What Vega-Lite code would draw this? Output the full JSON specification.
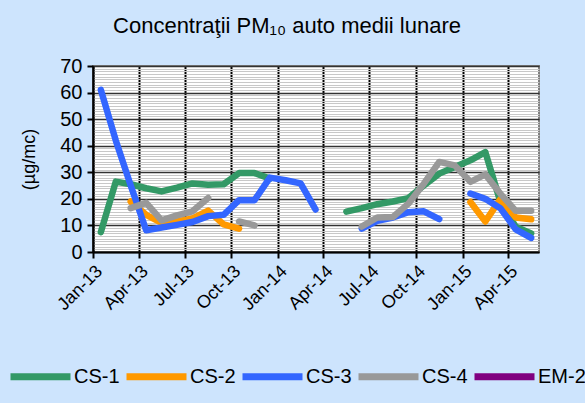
{
  "$schema": "https://vega.github.io/schema/vega-lite/v6.json",
  "width": 446,
  "height": 186,
  "autosize": {"type": "none"},
  "padding": {"left": 93, "top": 66, "right": 46, "bottom": 151},
  "background": "#cde4fd",
  "title": {"text": "Concentraţii PM₁₀ auto medii lunare", "fontSize": 22, "font": "Liberation Sans", "fontWeight": "normal", "color": "#000000", "anchor": "middle", "frame": "group", "dx": -29, "offset": 18},
  "config": {"view": {"fill": "white", "stroke": "#808080", "strokeWidth": 2}, "font": "Liberation Sans"},
  "data": {"values": [
    {"s":"CS-1","m":"2013-01-01","v":7.5},{"s":"CS-1","m":"2013-02-01","v":26.5},{"s":"CS-1","m":"2013-03-01","v":25.5},{"s":"CS-1","m":"2013-04-01","v":24},{"s":"CS-1","m":"2013-05-01","v":22.8},{"s":"CS-1","m":"2013-06-01","v":24.2},{"s":"CS-1","m":"2013-07-01","v":25.8},{"s":"CS-1","m":"2013-08-01","v":25.3},{"s":"CS-1","m":"2013-09-01","v":25.5},{"s":"CS-1","m":"2013-10-01","v":29.7},{"s":"CS-1","m":"2013-11-01","v":29.7},{"s":"CS-1","m":"2013-12-01","v":27.6},{"s":"CS-1","m":"2014-01-01","v":null},{"s":"CS-1","m":"2014-02-01","v":null},{"s":"CS-1","m":"2014-03-01","v":null},{"s":"CS-1","m":"2014-04-01","v":null},{"s":"CS-1","m":"2014-05-01","v":15.2},{"s":"CS-1","m":"2014-06-01","v":16.5},{"s":"CS-1","m":"2014-07-01","v":18},{"s":"CS-1","m":"2014-08-01","v":19},{"s":"CS-1","m":"2014-09-01","v":20.3},{"s":"CS-1","m":"2014-10-01","v":25},{"s":"CS-1","m":"2014-11-01","v":29.5},{"s":"CS-1","m":"2014-12-01","v":32},{"s":"CS-1","m":"2015-01-01","v":34.5},{"s":"CS-1","m":"2015-02-01","v":37.6},{"s":"CS-1","m":"2015-03-01","v":19},{"s":"CS-1","m":"2015-04-01","v":9.5},{"s":"CS-1","m":"2015-05-01","v":7},
    {"s":"CS-2","m":"2013-01-01","v":null},{"s":"CS-2","m":"2013-02-01","v":null},{"s":"CS-2","m":"2013-03-01","v":19},{"s":"CS-2","m":"2013-04-01","v":14},{"s":"CS-2","m":"2013-05-01","v":11},{"s":"CS-2","m":"2013-06-01","v":11.5},{"s":"CS-2","m":"2013-07-01","v":12.6},{"s":"CS-2","m":"2013-08-01","v":15.6},{"s":"CS-2","m":"2013-09-01","v":10.4},{"s":"CS-2","m":"2013-10-01","v":8.8},{"s":"CS-2","m":"2013-11-01","v":null},{"s":"CS-2","m":"2013-12-01","v":null},{"s":"CS-2","m":"2014-01-01","v":null},{"s":"CS-2","m":"2014-02-01","v":null},{"s":"CS-2","m":"2014-03-01","v":null},{"s":"CS-2","m":"2014-04-01","v":null},{"s":"CS-2","m":"2014-05-01","v":null},{"s":"CS-2","m":"2014-06-01","v":null},{"s":"CS-2","m":"2014-07-01","v":null},{"s":"CS-2","m":"2014-08-01","v":null},{"s":"CS-2","m":"2014-09-01","v":null},{"s":"CS-2","m":"2014-10-01","v":null},{"s":"CS-2","m":"2014-11-01","v":null},{"s":"CS-2","m":"2014-12-01","v":null},{"s":"CS-2","m":"2015-01-01","v":18.8},{"s":"CS-2","m":"2015-02-01","v":11.5},{"s":"CS-2","m":"2015-03-01","v":19.8},{"s":"CS-2","m":"2015-04-01","v":13},{"s":"CS-2","m":"2015-05-01","v":12.3},
    {"s":"CS-3","m":"2013-01-01","v":61},{"s":"CS-3","m":"2013-02-01","v":42},{"s":"CS-3","m":"2013-03-01","v":25},{"s":"CS-3","m":"2013-04-01","v":8.2},{"s":"CS-3","m":"2013-05-01","v":9.2},{"s":"CS-3","m":"2013-06-01","v":10.2},{"s":"CS-3","m":"2013-07-01","v":11.3},{"s":"CS-3","m":"2013-08-01","v":13.5},{"s":"CS-3","m":"2013-09-01","v":14},{"s":"CS-3","m":"2013-10-01","v":19.5},{"s":"CS-3","m":"2013-11-01","v":19.5},{"s":"CS-3","m":"2013-12-01","v":28},{"s":"CS-3","m":"2014-01-01","v":27},{"s":"CS-3","m":"2014-02-01","v":25.8},{"s":"CS-3","m":"2014-03-01","v":16},{"s":"CS-3","m":"2014-04-01","v":null},{"s":"CS-3","m":"2014-05-01","v":null},{"s":"CS-3","m":"2014-06-01","v":8.8},{"s":"CS-3","m":"2014-07-01","v":11.7},{"s":"CS-3","m":"2014-08-01","v":13},{"s":"CS-3","m":"2014-09-01","v":15},{"s":"CS-3","m":"2014-10-01","v":15.3},{"s":"CS-3","m":"2014-11-01","v":12.4},{"s":"CS-3","m":"2014-12-01","v":null},{"s":"CS-3","m":"2015-01-01","v":22},{"s":"CS-3","m":"2015-02-01","v":20},{"s":"CS-3","m":"2015-03-01","v":16.5},{"s":"CS-3","m":"2015-04-01","v":8.5},{"s":"CS-3","m":"2015-05-01","v":5.3},
    {"s":"CS-4","m":"2013-01-01","v":null},{"s":"CS-4","m":"2013-02-01","v":null},{"s":"CS-4","m":"2013-03-01","v":16.5},{"s":"CS-4","m":"2013-04-01","v":18.5},{"s":"CS-4","m":"2013-05-01","v":11.9},{"s":"CS-4","m":"2013-06-01","v":13.8},{"s":"CS-4","m":"2013-07-01","v":15.3},{"s":"CS-4","m":"2013-08-01","v":20.3},{"s":"CS-4","m":"2013-09-01","v":null},{"s":"CS-4","m":"2013-10-01","v":11.5},{"s":"CS-4","m":"2013-11-01","v":10},{"s":"CS-4","m":"2013-12-01","v":null},{"s":"CS-4","m":"2014-01-01","v":null},{"s":"CS-4","m":"2014-02-01","v":null},{"s":"CS-4","m":"2014-03-01","v":null},{"s":"CS-4","m":"2014-04-01","v":null},{"s":"CS-4","m":"2014-05-01","v":null},{"s":"CS-4","m":"2014-06-01","v":9.6},{"s":"CS-4","m":"2014-07-01","v":13},{"s":"CS-4","m":"2014-08-01","v":13.2},{"s":"CS-4","m":"2014-09-01","v":18.2},{"s":"CS-4","m":"2014-10-01","v":25.7},{"s":"CS-4","m":"2014-11-01","v":33.9},{"s":"CS-4","m":"2014-12-01","v":32.6},{"s":"CS-4","m":"2015-01-01","v":26.4},{"s":"CS-4","m":"2015-02-01","v":29.2},{"s":"CS-4","m":"2015-03-01","v":22},{"s":"CS-4","m":"2015-04-01","v":15.5},{"s":"CS-4","m":"2015-05-01","v":15.5}
  ]},
  "mark": {"type": "line", "strokeWidth": 6.5, "strokeCap": "round", "strokeJoin": "round", "invalid": "break-paths-filter-domains"},
  "encoding": {
    "x": {
      "field": "m", "type": "temporal", "timeUnit": "utcyearmonth", "bandPosition": 0.5,
      "scale": {"type": "utc", "domain": [{"year": 2013, "month": 1, "date": 1, "utc": true}, {"year": 2015, "month": 6, "date": 1, "utc": true}]},
      "axis": {
        "title": null,
        "values": [
          {"year": 2013, "month": 1, "date": 1, "utc": true},
          {"year": 2013, "month": 4, "date": 1, "utc": true},
          {"year": 2013, "month": 7, "date": 1, "utc": true},
          {"year": 2013, "month": 10, "date": 1, "utc": true},
          {"year": 2014, "month": 1, "date": 1, "utc": true},
          {"year": 2014, "month": 4, "date": 1, "utc": true},
          {"year": 2014, "month": 7, "date": 1, "utc": true},
          {"year": 2014, "month": 10, "date": 1, "utc": true},
          {"year": 2015, "month": 1, "date": 1, "utc": true},
          {"year": 2015, "month": 4, "date": 1, "utc": true}
        ],
        "format": "%b-%y", "labelAngle": -45, "labelFontSize": 18, "labelColor": "#000000", "labelOverlap": false, "labelPadding": 4,
        "tickColor": "#000000", "tickWidth": 2, "tickSize": 6,
        "domainColor": "#000000", "domainWidth": 2,
        "gridColor": "#000000", "gridWidth": 2
      }
    },
    "y": {
      "field": "v", "type": "quantitative",
      "scale": {"domain": [0, 70]},
      "axis": {
        "title": "(µg/mc)", "titleFontSize": 18, "titleFontWeight": "normal", "titleColor": "#000000", "titlePadding": 21,
        "values": [0,1,2,3,4,5,6,7,8,9,10,11,12,13,14,15,16,17,18,19,20,21,22,23,24,25,26,27,28,29,30,31,32,33,34,35,36,37,38,39,40,41,42,43,44,45,46,47,48,49,50,51,52,53,54,55,56,57,58,59,60,61,62,63,64,65,66,67,68,69,70],
        "labelExpr": "datum.value % 10 === 0 ? datum.label : ''",
        "labelFontSize": 20, "labelColor": "#000000", "labelOverlap": false, "labelPadding": 5,
        "tickColor": {"condition": {"test": "datum.value % 10 === 0", "value": "#000000"}, "value": "transparent"},
        "tickWidth": 2, "tickSize": 6,
        "domainColor": "#000000", "domainWidth": 2,
        "gridColor": {"condition": {"test": "datum.value % 10 === 0", "value": "#333333"}, "value": "#c8c8c8"},
        "gridWidth": {"condition": {"test": "datum.value % 10 === 0", "value": 1.5}, "value": 1}
      }
    },
    "color": {
      "field": "s", "type": "nominal",
      "scale": {"domain": ["CS-1", "CS-2", "CS-3", "CS-4", "EM-2"], "range": ["#339966", "#ff9900", "#3366ff", "#999999", "#800080"]},
      "legend": {
        "orient": "none", "legendX": -86, "legendY": 277, "direction": "horizontal", "columns": 5,
        "title": null, "symbolType": "stroke", "symbolSize": 3600, "symbolStrokeWidth": 7,
        "labelFontSize": 20, "labelColor": "#000000", "labelOffset": 0, "columnPadding": -8, "padding": 0
      }
    }
  }
}
